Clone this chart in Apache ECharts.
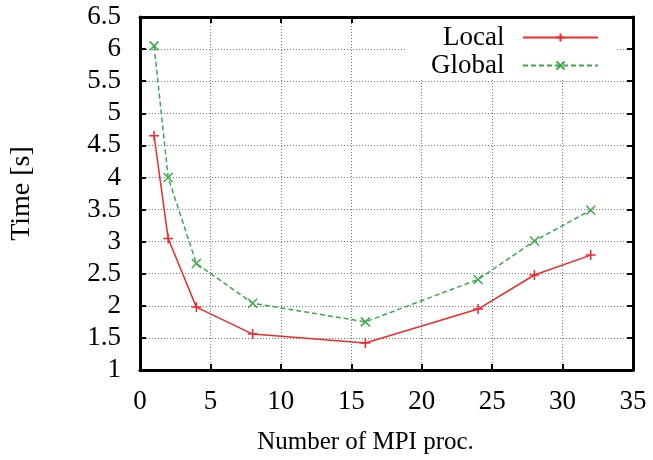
<!DOCTYPE html>
<html><head><meta charset="utf-8">
<script src="https://cdn.jsdelivr.net/npm/echarts@6/dist/echarts.min.js"></script>
<style>html,body{margin:0;padding:0;background:#fff}#c{width:653px;height:460px}</style>
</head><body><div id="c"></div>
<script>
const procs = [1, 2, 4, 8, 16, 24, 28, 32];
const localTimes = [4.65, 3.05, 1.98, 1.56, 1.42, 1.95, 2.48, 2.79];
const globalTimes = [6.05, 4.0, 2.66, 2.04, 1.75, 2.41, 3.01, 3.49];
const seriesNames = ['Local', 'Global'];
const xTitle = 'Number of MPI proc.';
const yTitle = 'Time [s]';

const font = 'Liberation Serif';
const red = '#ee2a2a', green = '#3aaa4a';
const plus = 'path://M5,0L5,10M0,5L10,5';
const cross = 'path://M0,0L10,10M0,10L10,0';

const chart = echarts.init(document.getElementById('c'));
const axisLine = {show: true, onZero: false, lineStyle: {color: '#000', width: 3}};
const tick = {show: true, inside: true, length: 6, lineStyle: {color: '#000', width: 2}};
const split = {show: true, lineStyle: {color: '#777', type: [1, 2], width: 1}};
chart.setOption({
  animation: false,
  grid: {left: 140, right: 20, top: 17, bottom: 89},
  legend: {
    orient: 'vertical', right: 37, top: 19, align: 'right',
    itemWidth: 75, itemHeight: 10, itemGap: 1,
    backgroundColor: '#fff', padding: [5, 17, 1, 26],
    formatter: n => n + '\u00a0\u00a0',
    textStyle: {fontFamily: font, fontSize: 27, color: '#000', lineHeight: 27},
    data: seriesNames
  },
  xAxis: [{
    type: 'value', min: 0, max: 35, interval: 5,
    name: xTitle, nameLocation: 'middle', nameGap: 60,
    nameTextStyle: {fontFamily: font, fontSize: 25, color: '#000', padding: [0, 42, 0, 0]},
    axisLine: axisLine, axisTick: tick, splitLine: split,
    axisLabel: {fontFamily: font, fontSize: 27, color: '#000', margin: 18}
  }, {
    type: 'value', position: 'top', min: 0, max: 35, interval: 5,
    axisLine: axisLine, axisTick: tick, splitLine: {show: false}, axisLabel: {show: false}
  }],
  yAxis: [{
    type: 'value', min: 1, max: 6.5, interval: 0.5,
    name: yTitle, nameLocation: 'middle', nameGap: 104, nameRotate: 90,
    nameTextStyle: {fontFamily: font, fontSize: 28, color: '#000'},
    axisLine: axisLine, axisTick: tick, splitLine: split,
    axisLabel: {fontFamily: font, fontSize: 27, color: '#000', margin: 19}
  }, {
    type: 'value', position: 'right', min: 1, max: 6.5, interval: 0.5,
    axisLine: axisLine, axisTick: tick, splitLine: {show: false}, axisLabel: {show: false}
  }],
  series: [{
    name: seriesNames[0], type: 'line',
    data: procs.map((p, i) => [p, localTimes[i]]),
    symbol: plus, symbolSize: 10, showAllSymbol: true,
    itemStyle: {color: red, borderColor: red, borderWidth: 1.5},
    lineStyle: {color: red, width: 1.5}
  }, {
    name: seriesNames[1], type: 'line',
    data: procs.map((p, i) => [p, globalTimes[i]]),
    symbol: cross, symbolSize: 9, showAllSymbol: true,
    itemStyle: {color: green, borderColor: green, borderWidth: 1.5},
    lineStyle: {color: green, width: 1.5, type: [5, 3]}
  }]
});
</script></body></html>
